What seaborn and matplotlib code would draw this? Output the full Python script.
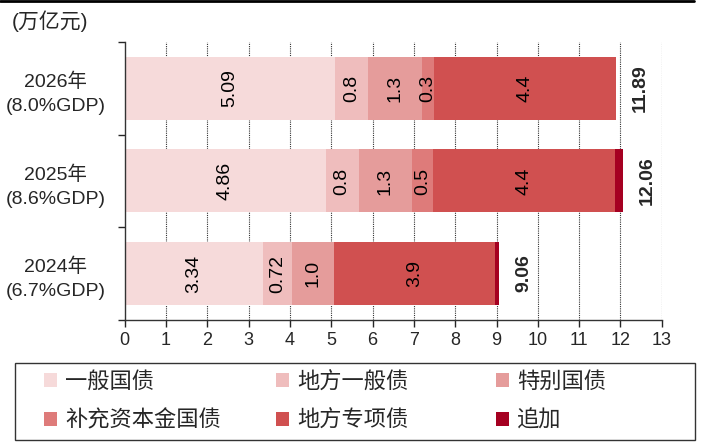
import numpy as np
import pandas as pd
import seaborn as sns
import matplotlib.pyplot as plt
from matplotlib.patches import Patch, Rectangle
from matplotlib.lines import Line2D

# %% data
years = ["2026", "2025", "2024"]
year_labels = ["2026年\n(8.0%GDP)", "2025年\n(8.6%GDP)", "2024年\n(6.7%GDP)"]
series = ["一般国债", "地方一般债", "特别国债", "补充资本金国债", "地方专项债", "追加"]
general_bond = [5.09, 4.86, 3.34]
local_general = [0.8, 0.8, 0.72]
special_bond = [1.3, 1.3, 1.0]
capital_bond = [0.3, 0.5, 0.0]
local_special = [4.4, 4.4, 3.9]
extra = [0.0, 0.2, 0.1]
totals = [11.89, 12.06, 9.06]
seg_labels = [["5.09", "0.8", "1.3", "0.3", "4.4"],
              ["4.86", "0.8", "1.3", "0.5", "4.4"],
              ["3.34", "0.72", "1.0", "", "3.9"]]
colors = ["#F6DADA", "#EFBDBD", "#E59C9B", "#DE7B7A", "#D05050", "#A50021"]

# %%
sns.set_style("white")
plt.rcParams["font.family"] = ["Liberation Sans", "Noto Sans CJK SC", "DejaVu Sans"]

df = pd.DataFrame({"year": years, series[0]: general_bond, series[1]: local_general,
                   series[2]: special_bond, series[3]: capital_bond,
                   series[4]: local_special, series[5]: extra})
cum = df[series].cumsum(axis=1)
cum["year"] = df["year"]

fig = plt.figure(figsize=(7.01, 4.43), dpi=100)
ax = fig.add_axes([0.178, 0.278, 0.766, 0.627])

# stacked bars: draw cumulative totals from largest to smallest
for i in range(len(series) - 1, -1, -1):
    sns.barplot(data=cum, x=series[i], y="year", order=years, orient="h",
                color=colors[i], width=0.68, linewidth=0, saturation=1, ax=ax)

# segment labels
for r, yr in enumerate(years):
    left = 0
    for j in range(5):
        w = df.loc[r, series[j]]
        if w > 0 and seg_labels[r][j]:
            ax.text(left + w / 2, r, seg_labels[r][j], rotation=90, ha="center",
                    va="center", fontsize=14, color="black")
        left += w
    ax.text(totals[r] + 0.6, r, f"{totals[r]:.2f}", rotation=90, ha="center",
            va="center", fontsize=14, fontweight="bold")

ax.set_xlim(0, 13)
ax.set_ylim(2.5, -0.5)
ax.set_xticks(range(14))
ax.tick_params(axis="x", labelsize=13, length=5, width=1, direction="out", bottom=True)
ax.set_yticks([-0.5, 0.5, 1.5, 2.5])
ax.set_yticklabels([])
ax.set_yticks([0, 1, 2], minor=True)
ax.set_yticklabels(year_labels, minor=True, fontsize=14, ha="center",
                   multialignment="center", linespacing=1.55)
ax.tick_params(axis="y", which="major", length=5, width=1, direction="out", left=True)
ax.tick_params(axis="y", which="minor", length=0, pad=50)
ax.set_xlabel("")
ax.set_ylabel("")

for xg in range(1, 14):
    ax.axvline(xg, color="#333333", lw=0.8, ls=(0, (1, 1)), zorder=0)
ax.set_axisbelow(True)

for s in ["top", "right"]:
    ax.spines[s].set_visible(False)
for s in ["left", "bottom"]:
    ax.spines[s].set_color("#333333")
    ax.spines[s].set_linewidth(1)

fig.text(0.017, 0.952, "(万亿元)", fontsize=15, ha="left", va="center")
fig.add_artist(Line2D([0, 0.99], [0.997, 0.997], color="black", lw=2))

# legend: one column per legend so the columns sit where the reference has them
handles = [Patch(facecolor=c, edgecolor="none", label=s) for c, s in zip(colors, series)]
col_x = [44, 276, 496]
for k, x0 in enumerate(col_x):
    pair = [handles[k], handles[k + 3]]
    fig.legend(pair, [series[k], series[k + 3]], loc="upper left",
               bbox_to_anchor=(x0 / 701, 1 - 372 / 443), bbox_transform=fig.transFigure,
               frameon=False, fontsize=16, handlelength=0.6, handleheight=0.6,
               handletextpad=0.35, borderaxespad=0, borderpad=0, labelspacing=0.78)
fig.add_artist(Rectangle((15 / 701, 1 - 440 / 443), 680 / 701, 77 / 443,
                         transform=fig.transFigure, fill=False, edgecolor="#333333", lw=1))

fig.savefig("out.png", dpi=100)
